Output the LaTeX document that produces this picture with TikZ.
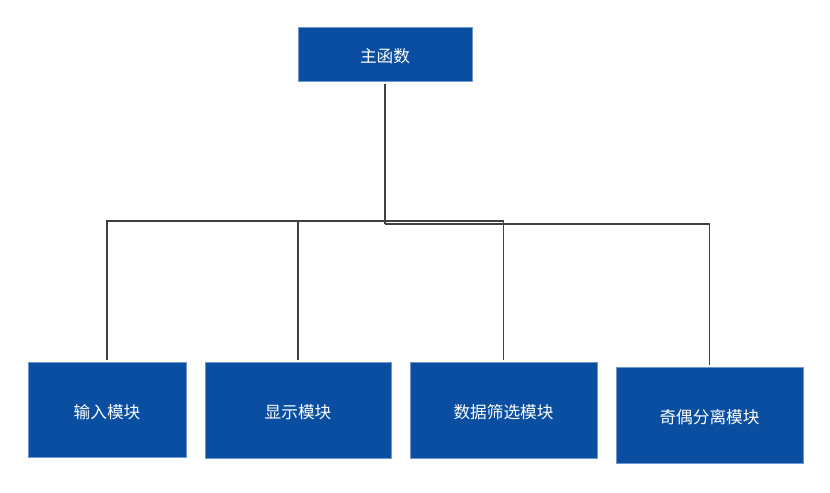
\documentclass[tikz,border=0pt]{standalone}
\usepackage{fontspec}
\newfontfamily\cjk{Noto Sans CJK SC}
\definecolor{boxblue}{HTML}{0A4EA2}
\definecolor{boxedge}{HTML}{6F96CF}
\definecolor{linegray}{HTML}{404040}
\tikzset{
    module/.style={draw=boxedge, line width=0.4pt, fill=boxblue, text=white,
        font=\cjk\fontsize{12.5}{14}\selectfont, inner sep=0pt, anchor=center,
        text height=1.45em},
    conn/.style={draw=linegray, line width=1.2pt}
}
\begin{document}
\begin{tikzpicture}[x=0.75pt, y=-0.75pt]
    \useasboundingbox (0,0) rectangle (830,492);
    % Boxes
    \node[module, minimum width=174*0.75pt, minimum height=54*0.75pt] (main) at (385,54) {主函数};
    \node[module, minimum width=158*0.75pt, minimum height=95*0.75pt] (input) at (107,409.5) {输入模块};
    \node[module, minimum width=186*0.75pt, minimum height=96*0.75pt] (show) at (298,410) {显示模块};
    \node[module, minimum width=187*0.75pt, minimum height=96*0.75pt] (filter) at (503.5,410) {数据筛选模块};
    \node[module, minimum width=187*0.75pt, minimum height=96*0.75pt] (oddeven) at (709.5,415) {奇偶分离模块};

    % Connectors
    \coordinate (split) at (385,221);
    \coordinate (splitlow) at (385,224);
    \draw[conn] ([yshift=-2pt]main.south) -- (splitlow);
    \draw[conn] (split) -| ([yshift=1.5pt]input.north);
    \draw[conn] (split) -| ([yshift=1.5pt]show.north);
    \draw[conn] (split) -| ([yshift=1.5pt]filter.north);
    \draw[conn] (splitlow) -| ([yshift=1.5pt]oddeven.north);
\end{tikzpicture}
\end{document}
